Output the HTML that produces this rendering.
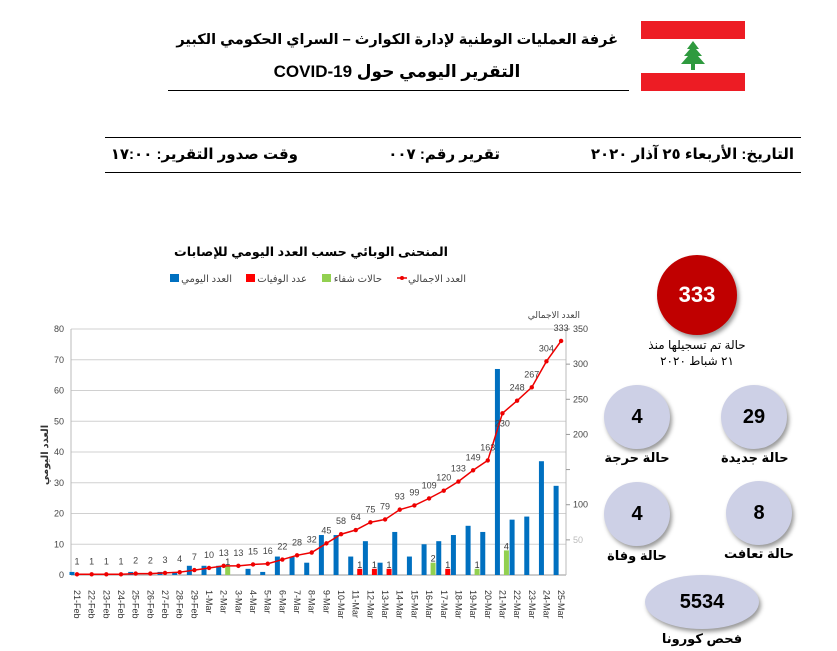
<!DOCTYPE html>
<html><head><meta charset="utf-8"><style>
body{margin:0;width:837px;height:651px;background:#fff;overflow:hidden;position:relative;font-family:"Liberation Sans","DejaVu Sans",sans-serif}
.a{position:absolute;white-space:nowrap}
.b{font-weight:bold}
</style></head><body>
<div class="a b" style="left:178px;top:32px;width:440px;text-align:right;font-size:14.5px;direction:rtl">غرفة العمليات الوطنية لإدارة الكوارث – السراي الحكومي الكبير</div>
<div class="a b" style="left:222px;top:62px;width:350px;text-align:center;font-size:17px;direction:rtl">التقرير اليومي حول COVID-19</div>
<div class="a" style="left:168px;top:90px;width:461px;height:1px;background:#000"></div>
<div class="a" style="left:641px;top:21px;width:104px;height:18px;background:#ed1c24"></div>
<div class="a" style="left:641px;top:73px;width:104px;height:18px;background:#ed1c24"></div>
<svg class="a" style="left:676px;top:39px" width="34" height="34" viewBox="0 0 34 34"><polygon points="17,2 11,10 14,10 8,17 12,17 5,25 15,25 15,31 19,31 19,25 29,25 22,17 26,17 20,10 23,10" fill="#2e9a3e"/></svg>
<div class="a" style="left:105px;top:137px;width:696px;height:1px;background:#000"></div>
<div class="a" style="left:105px;top:172px;width:696px;height:1px;background:#000"></div>
<div class="a b" style="left:590px;top:145px;width:204px;text-align:right;font-size:15px;direction:rtl">التاريخ: الأربعاء ٢٥ آذار ٢٠٢٠</div>
<div class="a b" style="left:390px;top:145px;width:110px;text-align:right;font-size:15px;direction:rtl">تقرير رقم: ٠٠٧</div>
<div class="a b" style="left:118px;top:145px;width:180px;text-align:right;font-size:15px;direction:rtl">وقت صدور التقرير: ١٧:٠٠</div>

<svg class="a" style="left:0;top:0" width="837" height="651" id="ch"></svg>

<div class="a" style="left:657px;top:255px;width:80px;height:80px;border-radius:50%;background:#c00000;box-shadow:2px 3px 4px #999;color:#fff;font-size:22px;font-weight:bold;text-align:center;line-height:80px">333</div>
<div class="a" style="left:640px;top:337px;width:114px;text-align:center;font-size:12px;direction:rtl;line-height:16px">حالة تم تسجيلها منذ<br>٢١ شباط ٢٠٢٠</div>
<div class="a" style="left:604px;top:385px;width:66px;height:64px;border-radius:50%;background:#cdd0e6;box-shadow:2px 3px 4px #999;font-size:20px;font-weight:bold;text-align:center;line-height:64px">4</div>
<div class="a b" style="left:604px;top:450px;width:66px;text-align:center;font-size:13px">حالة حرجة</div>
<div class="a" style="left:721px;top:385px;width:66px;height:64px;border-radius:50%;background:#cdd0e6;box-shadow:2px 3px 4px #999;font-size:20px;font-weight:bold;text-align:center;line-height:64px">29</div>
<div class="a b" style="left:721px;top:450px;width:66px;text-align:center;font-size:13px">حالة جديدة</div>
<div class="a" style="left:604px;top:482px;width:66px;height:64px;border-radius:50%;background:#cdd0e6;box-shadow:2px 3px 4px #999;font-size:20px;font-weight:bold;text-align:center;line-height:64px">4</div>
<div class="a b" style="left:604px;top:548px;width:66px;text-align:center;font-size:13px">حالة وفاة</div>
<div class="a" style="left:726px;top:481px;width:66px;height:64px;border-radius:50%;background:#cdd0e6;box-shadow:2px 3px 4px #999;font-size:20px;font-weight:bold;text-align:center;line-height:64px">8</div>
<div class="a b" style="left:724px;top:546px;width:66px;text-align:center;font-size:13px">حالة تعافت</div>
<div class="a" style="left:645px;top:575px;width:114px;height:54px;border-radius:50%;background:#cdd0e6;box-shadow:2px 3px 4px #999;font-size:20px;font-weight:bold;text-align:center;line-height:54px">5534</div>
<div class="a b" style="left:645px;top:631px;width:114px;text-align:center;font-size:13px">فحص كورونا</div>

<script>
var blue=[1,0,0,0,1,0,1,1,3,3,3,0,2,1,6,6,4,13,13,6,11,4,14,6,10,11,13,16,14,67,18,19,37,29];
var cum=[1,1,1,1,2,2,3,4,7,10,13,13,15,16,22,28,32,45,58,64,75,79,93,99,109,120,133,149,163,230,248,267,304,333];
var red={19:2,20:2,21:2,25:2}, redL={19:1,20:1,21:1,25:1};
var grn={10:3,24:4,27:2,29:8}, grnL={10:1,24:2,27:1,29:4};
var lab=[];for(var d=21;d<=29;d++)lab.push(d+'-Feb');for(d=1;d<=25;d++)lab.push(d+'-Mar');
var s='',X0=77,st=14.67,Y0=575,py=3.075,ry=246/350;
function X(i){return X0+i*st}
s+='<text x="311" y="256" text-anchor="middle" font-size="12.7" font-weight="bold" direction="rtl">المنحنى الوبائي حسب العدد اليومي للإصابات</text>';
s+='<rect x="170" y="274" width="9" height="8" fill="#0070c0"/><text x="232" y="282" text-anchor="end" font-size="10" fill="#444">العدد اليومي</text>';
s+='<rect x="246" y="274" width="9" height="8" fill="#ff0000"/><text x="307" y="282" text-anchor="end" font-size="10" fill="#444">عدد الوفيات</text>';
s+='<rect x="322" y="274" width="9" height="8" fill="#92d050"/><text x="382" y="282" text-anchor="end" font-size="10" fill="#444">حالات شفاء</text>';
s+='<line x1="397" y1="278" x2="407" y2="278" stroke="#e00" stroke-width="1.5"/><circle cx="402" cy="278" r="2" fill="#e00"/><text x="466" y="282" text-anchor="end" font-size="10" fill="#444">العدد الاجمالي</text>';
s+='<text x="580" y="318" text-anchor="end" font-size="9" fill="#444">العدد الاجمالي</text>';
for(var v=0;v<=80;v+=10){var y=Y0-v*py;s+='<line x1="71" y1="'+y+'" x2="566" y2="'+y+'" stroke="'+(v?'#d0d0d0':'#999')+'"/><text x="64" y="'+(y+3)+'" text-anchor="end" font-size="9" fill="#444">'+v+'</text>';}
s+='<line x1="71" y1="329" x2="71" y2="575" stroke="#bbb"/><line x1="566" y1="329" x2="566" y2="575" stroke="#bbb"/>';
for(v=50;v<=350;v+=50){var y2=Y0-v*ry;s+='<line x1="566" y1="'+y2+'" x2="570" y2="'+y2+'" stroke="#999"/>';if(v!=150)s+='<text x="573" y="'+(y2+3)+'" font-size="9" fill="'+(v==50?'#bbb':'#444')+'">'+v+'</text>';}
s+='<text transform="translate(48,455) rotate(-90)" text-anchor="middle" font-size="10" font-weight="bold" fill="#333">العدد اليومي</text>';
var pts=[];
for(var i=0;i<34;i++){var x=X(i);
 if(blue[i])s+='<rect x="'+(x-7.5)+'" y="'+(Y0-blue[i]*py)+'" width="5" height="'+blue[i]*py+'" fill="#0070c0"/>';
 if(red[i]){s+='<rect x="'+(x+1.5)+'" y="'+(Y0-red[i]*py)+'" width="5" height="'+red[i]*py+'" fill="#ff0000"/><text x="'+(x+4)+'" y="'+(Y0-red[i]*py-1)+'" text-anchor="middle" font-size="9" fill="#333">'+redL[i]+'</text>';}
 if(grn[i]){s+='<rect x="'+(x+1.5)+'" y="'+(Y0-grn[i]*py)+'" width="5" height="'+grn[i]*py+'" fill="#92d050"/><text x="'+(x+4)+'" y="'+(Y0-grn[i]*py-1)+'" text-anchor="middle" font-size="9" fill="#333">'+grnL[i]+'</text>';}
 pts.push(x+','+(Y0-cum[i]*ry));
 s+='<text transform="translate('+(x-3)+',590) rotate(90)" font-size="9" fill="#333">'+lab[i]+'</text>';
}
s+='<polyline points="'+pts.join(' ')+'" fill="none" stroke="#e00" stroke-width="1.5"/>';
for(i=0;i<34;i++){var x=X(i),y=Y0-cum[i]*ry;s+='<circle cx="'+x+'" cy="'+y+'" r="2.2" fill="#e00"/>';
 var ly=(i==29)?y+13:y-10;s+='<text x="'+x+'" y="'+ly+'" text-anchor="middle" font-size="9" fill="#444">'+cum[i]+'</text>';}
document.getElementById('ch').innerHTML=s;
</script>
</body></html>
